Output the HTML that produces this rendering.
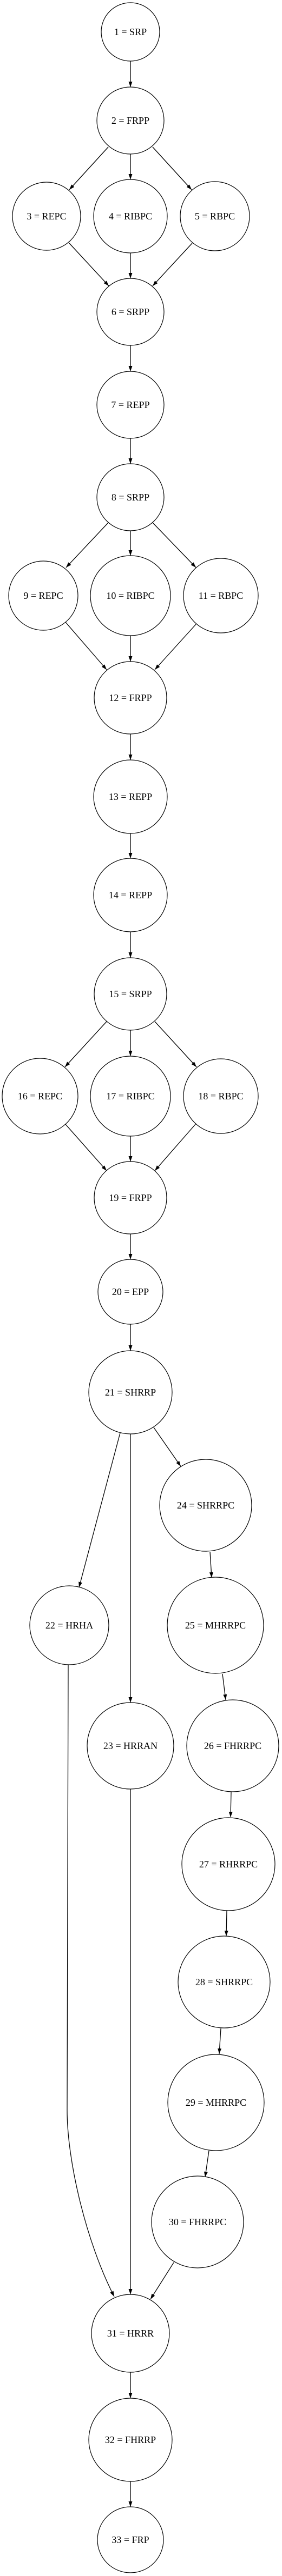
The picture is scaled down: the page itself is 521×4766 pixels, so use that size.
<!DOCTYPE html>
<html><head><meta charset="utf-8"><style>
html,body{margin:0;padding:0;background:#fff;}
svg{display:block;}
text{font-family:"Liberation Serif",serif;font-size:18px;fill:#000;}
</style></head><body>
<svg width="521" height="4766" viewBox="0 0 521 4766" xmlns="http://www.w3.org/2000/svg">
<defs><marker id="a" markerUnits="userSpaceOnUse" markerWidth="11" markerHeight="8" refX="10" refY="3.5" orient="auto"><path d="M0,0 L10,3.5 L0,7 z" fill="#000"/></marker></defs>
<g stroke="#000" stroke-width="1.3" fill="none" marker-end="url(#a)">
<line x1="241" y1="113" x2="241" y2="161"/>
<line x1="241" y1="285" x2="241" y2="332"/>
<line x1="241" y1="468" x2="241" y2="515"/>
<line x1="241" y1="639" x2="241" y2="687"/>
<line x1="241" y1="811" x2="241" y2="858"/>
<line x1="241" y1="982" x2="241" y2="1028"/>
<line x1="241" y1="1176" x2="241" y2="1224"/>
<line x1="241" y1="1358" x2="241" y2="1406"/>
<line x1="241" y1="1542" x2="241" y2="1588"/>
<line x1="241" y1="1724" x2="241" y2="1772"/>
<line x1="241" y1="1906" x2="241" y2="1954"/>
<line x1="241" y1="2102" x2="241" y2="2149"/>
<line x1="241" y1="2283" x2="241" y2="2330"/>
<line x1="241" y1="2450" x2="241" y2="2499"/>
<line x1="241" y1="2653" x2="241" y2="3150"/>
<line x1="241" y1="4389" x2="241" y2="4437"/>
<line x1="241" y1="4591" x2="241" y2="4638"/>
<line x1="200" y1="272" x2="128" y2="351"/>
<line x1="282" y1="272" x2="354" y2="351"/>
<line x1="128" y1="450" x2="201" y2="529"/>
<line x1="355" y1="450" x2="282" y2="529"/>
<line x1="200" y1="967" x2="122" y2="1050"/>
<line x1="282" y1="967" x2="362" y2="1050"/>
<line x1="121" y1="1151" x2="197" y2="1239"/>
<line x1="362" y1="1155" x2="286" y2="1239"/>
<line x1="197" y1="1890" x2="120" y2="1974"/>
<line x1="286" y1="1890" x2="363" y2="1974"/>
<line x1="120" y1="2079" x2="197" y2="2166"/>
<line x1="362" y1="2079" x2="286" y2="2166"/>
<line x1="222" y1="2651" x2="146" y2="2937"/>
<line x1="284" y1="2641" x2="334" y2="2713"/>
<line x1="388" y1="2871" x2="391" y2="2919"/>
<line x1="411" y1="3097" x2="417" y2="3145"/>
<line x1="427" y1="3316" x2="426" y2="3362"/>
<line x1="419" y1="3535" x2="418" y2="3582"/>
<line x1="408" y1="3753" x2="405" y2="3800"/>
<line x1="386" y1="3979" x2="379" y2="4028"/>
<line x1="321" y1="4186" x2="278" y2="4254"/>
<line x1="241" y1="3310" x2="241" y2="4245"/>
<path d="M126,3080 L124,3904 C124,4000 160,4150 211,4249"/>
</g>
<g stroke="#000" stroke-width="1.2" fill="#fff">
<circle cx="241" cy="59" r="54"/>
<circle cx="241" cy="223" r="62"/>
<circle cx="86" cy="400" r="63"/>
<circle cx="241" cy="400" r="68"/>
<circle cx="397" cy="400" r="64"/>
<circle cx="241" cy="577" r="62"/>
<circle cx="241" cy="749" r="62"/>
<circle cx="241" cy="920" r="62"/>
<circle cx="80" cy="1102" r="64"/>
<circle cx="241" cy="1102" r="74"/>
<circle cx="408" cy="1102" r="69"/>
<circle cx="241" cy="1291" r="67"/>
<circle cx="241" cy="1474" r="68"/>
<circle cx="241" cy="1656" r="68"/>
<circle cx="241" cy="1839" r="67"/>
<circle cx="74" cy="2028" r="70"/>
<circle cx="241" cy="2028" r="74"/>
<circle cx="408" cy="2028" r="69"/>
<circle cx="241" cy="2216" r="67"/>
<circle cx="241" cy="2390" r="60"/>
<circle cx="241" cy="2576" r="77"/>
<circle cx="128" cy="3007" r="73"/>
<circle cx="241" cy="3230" r="80"/>
<circle cx="380" cy="2785" r="85"/>
<circle cx="398" cy="3007" r="89"/>
<circle cx="430" cy="3230" r="85"/>
<circle cx="422" cy="3449" r="86"/>
<circle cx="414" cy="3667" r="85"/>
<circle cx="399" cy="3890" r="89"/>
<circle cx="365" cy="4111" r="85"/>
<circle cx="241" cy="4317" r="72"/>
<circle cx="241" cy="4514" r="77"/>
<circle cx="241" cy="4699" r="61"/>
</g>
<g text-anchor="middle" dominant-baseline="central">
<text x="241" y="59">1 = SRP</text>
<text x="241" y="223">2 = FRPP</text>
<text x="86" y="400">3 = REPC</text>
<text x="241" y="400">4 = RIBPC</text>
<text x="397" y="400">5 = RBPC</text>
<text x="241" y="577">6 = SRPP</text>
<text x="241" y="749">7 = REPP</text>
<text x="241" y="920">8 = SRPP</text>
<text x="80" y="1102">9 = REPC</text>
<text x="241" y="1102">10 = RIBPC</text>
<text x="408" y="1102">11 = RBPC</text>
<text x="241" y="1291">12 = FRPP</text>
<text x="241" y="1474">13 = REPP</text>
<text x="241" y="1656">14 = REPP</text>
<text x="241" y="1839">15 = SRPP</text>
<text x="74" y="2028">16 = REPC</text>
<text x="241" y="2028">17 = RIBPC</text>
<text x="408" y="2028">18 = RBPC</text>
<text x="241" y="2216">19 = FRPP</text>
<text x="241" y="2390">20 = EPP</text>
<text x="241" y="2576">21 = SHRRP</text>
<text x="128" y="3007">22 = HRHA</text>
<text x="241" y="3230">23 = HRRAN</text>
<text x="380" y="2785">24 = SHRRPC</text>
<text x="398" y="3007">25 = MHRRPC</text>
<text x="430" y="3230">26 = FHRRPC</text>
<text x="422" y="3449">27 = RHRRPC</text>
<text x="414" y="3667">28 = SHRRPC</text>
<text x="399" y="3890">29 = MHRRPC</text>
<text x="365" y="4111">30 = FHRRPC</text>
<text x="241" y="4317">31 = HRRR</text>
<text x="241" y="4514">32 = FHRRP</text>
<text x="241" y="4699">33 = FRP</text>
</g>
</svg>
</body></html>
